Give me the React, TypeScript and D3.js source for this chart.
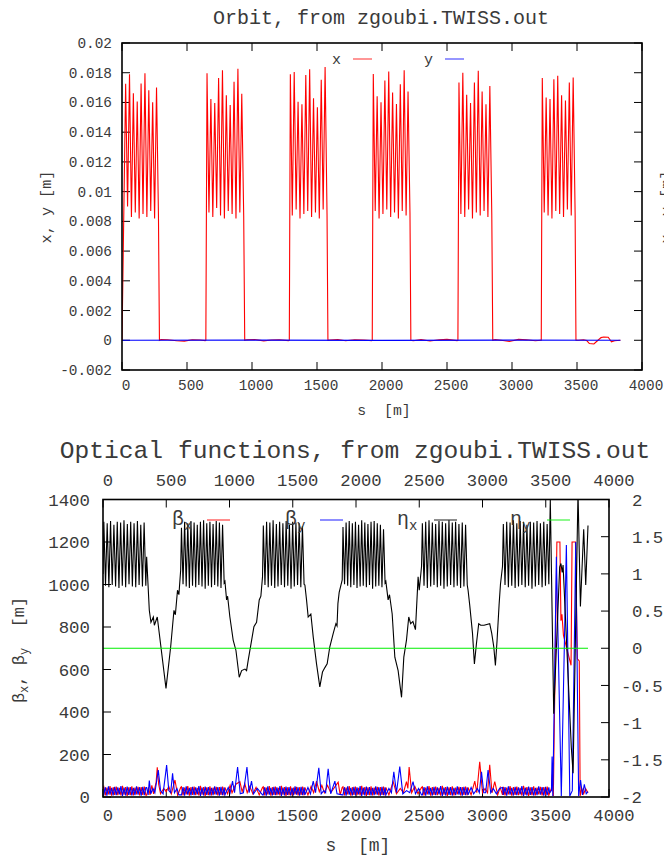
import React, { useEffect, useRef } from 'react';
import * as d3 from 'd3';

type Pt = [number, number];

const W = 664;
const H = 859;
const mono = '"Liberation Mono", "DejaVu Sans Mono", monospace';
const ink = '#3a3a3a';

// tick values
const sTicks = [0, 500, 1000, 1500, 2000, 2500, 3000, 3500, 4000];
const orbitTicks = [-0.002, 0, 0.002, 0.004, 0.006, 0.008, 0.01, 0.012, 0.014, 0.016, 0.018, 0.02];
const betaTicks = [0, 200, 400, 600, 800, 1000, 1200, 1400];
const etaTicks = [-2, -1.5, -1, -0.5, 0, 0.5, 1, 1.5, 2];

// ---- orbit (top panel) ----
const ringLength = 3834;
const orbitCell = 29.7;
const orbitArcStart = [0, 645, 1287, 1925, 2584, 3225];
const orbitFirstPeak = [28, 654, 1295, 1933, 2592, 3233];
const orbitArcEnd = [288, 944, 1584, 2222, 2852, 3492];
const orbitPeaks = [
  [0.01725, 0.0179, 0.01662, 0.01606, 0.01727, 0.01797, 0.01682, 0.01602, 0.017],
  [0.01797, 0.01624, 0.01597, 0.01765, 0.01817, 0.01649, 0.01582, 0.0174, 0.01826, 0.01658],
  [0.0179, 0.01805, 0.01604, 0.01588, 0.01785, 0.01823, 0.01628, 0.01568, 0.01752, 0.01839],
  [0.01792, 0.01641, 0.01602, 0.01747, 0.01808, 0.01667, 0.0159, 0.01722, 0.01817, 0.01673],
  [0.01735, 0.01799, 0.01651, 0.01597, 0.01734, 0.01814, 0.01674, 0.01588, 0.01711],
  [0.01765, 0.01633, 0.01624, 0.01756, 0.0178, 0.01649, 0.01613, 0.01735, 0.01768],
];
const orbitTroughs = [
  [0.009, 0.0083, 0.0086, 0.0082, 0.0085, 0.0083, 0.0087, 0.0082, 0.0084],
  [0.0086, 0.0083, 0.0089, 0.0084, 0.0082, 0.0087, 0.0085, 0.0082, 0.0086, 0.0084],
  [0.0084, 0.0088, 0.0082, 0.0085, 0.0087, 0.0083, 0.0086, 0.0082, 0.0088, 0.0085],
  [0.0087, 0.0082, 0.0085, 0.0088, 0.0083, 0.0086, 0.0082, 0.0087, 0.0084, 0.0086],
  [0.0085, 0.0083, 0.0088, 0.0082, 0.0086, 0.0084, 0.0087, 0.0083, 0.0085],
  [0.0086, 0.0084, 0.0082, 0.0087, 0.0085, 0.0083, 0.0088, 0.0084, 0.0086],
];
const orbitStraights: Pt[][] = [
  [[300, 0.00005], [350, 0.00004], [420, -0.00003], [480, -0.00006], [540, 0.00003], [600, 0.00002], [640, -0.00002]],
  [[960, 0.00003], [1020, 0.00005], [1090, -0.00004], [1150, 0.00002], [1210, 0.00004], [1280, -0.00002]],
  [[1600, 0.00002], [1660, 0.00005], [1720, -0.00003], [1790, 0.00003], [1860, 0.00002], [1920, -0.00002]],
  [[2240, -0.00003], [2300, 0.00004], [2370, -0.00005], [2440, 0.00003], [2500, 0.00006], [2578, -0.00002]],
  [[2870, 0.00004], [2930, -0.00002], [2980, -0.00008], [3050, 0.00006], [3110, 0.00003], [3180, -0.00003], [3220, 0]],
  [[3510, 0], [3550, 0.00003], [3575, -0.00002], [3595, -0.00022], [3630, -0.00025], [3655, -0.00005], [3685, 0.00018], [3705, 0.00022], [3740, 0.0002], [3765, -0.0001], [3790, -0.00003], [ringLength, 0]],
];
const yOrbit: Pt[] = [[0, 0], [1000, 0.00001], [2000, -0.00001], [3000, 0.00001], [ringLength, 0]];

// ---- optics (bottom panel) ----
const opticsArcStart = [0, 614, 1261, 1891, 2518, 3158];
const opticsArcEnd = [345, 964, 1596, 2236, 2886, 3531];
const etaPeaks = [
  [1.7, 1.68, 1.71, 1.66, 1.7, 1.69, 1.72, 1.67, 1.7, 1.68, 1.71, 1.66, 1.69],
  [1.62, 1.7, 1.68, 1.71, 1.69, 1.66, 1.7, 1.72, 1.68, 1.7, 1.67, 1.71, 1.69, 1.66],
  [1.65, 1.7, 1.69, 1.72, 1.67, 1.7, 1.68, 1.71, 1.66, 1.7, 1.69, 1.68, 1.64],
  [1.63, 1.69, 1.71, 1.68, 1.7, 1.66, 1.72, 1.69, 1.67, 1.7, 1.71, 1.68, 1.66, 1.6],
  [1.68, 1.7, 1.72, 1.69, 1.67, 1.71, 1.7, 1.68, 1.72, 1.69, 1.7, 1.67, 1.69, 1.66],
  [1.67, 1.7, 1.69, 1.72, 1.68, 1.71, 1.7, 1.66, 1.7, 1.69, 1.71, 1.68, 1.7, 1.67],
];
const etaTroughs = [
  [0.84, 0.82, 0.85, 0.83, 0.81, 0.84, 0.82, 0.86, 0.83, 0.82, 0.85, 0.83, 0.84],
  [0.86, 0.83, 0.81, 0.84, 0.82, 0.85, 0.83, 0.8, 0.84, 0.82, 0.85, 0.83, 0.81, 0.88],
  [0.85, 0.82, 0.84, 0.81, 0.83, 0.85, 0.82, 0.84, 0.8, 0.83, 0.85, 0.82, 0.86],
  [0.86, 0.84, 0.82, 0.85, 0.81, 0.83, 0.84, 0.82, 0.85, 0.8, 0.83, 0.84, 0.82, 0.88],
  [0.84, 0.81, 0.83, 0.85, 0.82, 0.84, 0.8, 0.83, 0.85, 0.82, 0.84, 0.81, 0.83, 0.85],
  [0.85, 0.82, 0.84, 0.81, 0.83, 0.85, 0.82, 0.84, 0.8, 0.83, 0.85, 0.82, 0.84, 0.86],
];
const etaStart: Pt[] = [[0, 1.0]];
const etaStraights: Pt[][] = [
  [[345, 1.23], [366, 0.51], [379, 0.35], [398, 0.42], [406, 0.31], [429, 0.42], [498, -0.54], [535, 0.02], [561, 0.51], [572, 0.45], [589, 0.78], [600, 0.72], [614, 1.05]],
  [[964, 0.9], [977, 0.65], [985, 0.7], [1003, 0.42], [1029, 0.11], [1051, -0.03], [1077, -0.39], [1096, -0.3], [1122, -0.28], [1135, -0.3], [1148, -0.16], [1175, 0.11], [1193, 0.29], [1214, 0.35], [1235, 0.65], [1248, 0.7], [1261, 0.96]],
  [[1596, 0.85], [1609, 0.65], [1622, 0.42], [1643, 0.46], [1662, 0.15], [1688, -0.21], [1714, -0.52], [1735, -0.32], [1754, -0.26], [1772, -0.21], [1793, 0.02], [1820, 0.2], [1841, 0.33], [1850, 0.3], [1857, 0.6], [1867, 0.75], [1891, 0.92]],
  [[2236, 0.9], [2254, 0.65], [2265, 0.72], [2286, 0.46], [2307, -0.12], [2333, -0.3], [2360, -0.66], [2378, -0.12], [2399, 0.11], [2417, 0.42], [2432, 0.33], [2450, 0.36], [2470, 0.25], [2491, 0.96], [2500, 0.78], [2518, 1.1]],
  [[2886, 0.78], [2899, 0.58], [2921, 0.2], [2936, -0.21], [2952, 0.06], [2970, 0.33], [2986, 0.31], [3012, 0.31], [3057, 0.33], [3073, 0.2], [3089, 0.02], [3102, -0.23], [3115, 0.1], [3131, 0.58], [3142, 0.86], [3158, 1.1]],
  [[3531, 1.5], [3536, 2.0], [3563, -0.88], [3610, 1.09], [3620, 1.14], [3630, 1.02], [3637, 1.12], [3702, -1.33], [3716, -1.68], [3755, 2.1], [3774, 0.56], [3800, 1.6], [3816, 0.85], [ringLength, 1.65]],
];
const etaY: Pt[] = [[0, 0], [ringLength, 0]];

const betaXArcPeaks = [48, 44, 51, 46, 49, 43, 52, 47, 45, 50, 44, 48, 46, 49];
const betaXArcTroughs = [8, 12, 6, 10, 9, 7, 11, 5, 9, 8, 12, 7, 10, 8];
const betaYArcPeaks = [46, 50, 43, 48, 45, 51, 44, 49, 47, 43, 50, 46, 48, 45];
const betaYArcTroughs = [10, 6, 11, 7, 9, 12, 5, 8, 10, 7, 9, 11, 6, 9];
const betaXStraights: Pt[][] = [
  [[345, 8], [360, 45], [372, 10], [386, 55], [400, 15], [420, 70], [429, 140], [440, 60], [455, 15], [480, 40], [500, 25], [520, 50], [540, 15], [569, 80], [590, 8], [614, 45]],
  [[964, 45], [985, 15], [1005, 55], [1020, 20], [1050, 60], [1082, 72], [1100, 25], [1121, 63], [1140, 20], [1160, 50], [1185, 15], [1210, 45], [1235, 10], [1261, 45]],
  [[1596, 45], [1620, 10], [1645, 50], [1665, 20], [1688, 75], [1710, 25], [1730, 55], [1750, 20], [1775, 55], [1800, 20], [1830, 45], [1859, 70], [1875, 10], [1891, 45]],
  [[2236, 45], [2260, 10], [2294, 72], [2320, 15], [2350, 40], [2375, 20], [2399, 72], [2410, 40], [2420, 141], [2440, 20], [2465, 50], [2490, 15], [2518, 45]],
  [[2886, 45], [2910, 10], [2939, 75], [2955, 20], [2978, 166], [3000, 20], [3020, 40], [3040, 20], [3057, 152], [3075, 20], [3097, 72], [3120, 10], [3140, 45], [3158, 10]],
  [[3531, 20], [3545, 40], [3553, 110], [3560, 5], [3588, 1200], [3612, 1200], [3620, 830], [3628, 860], [3640, 760], [3700, 620], [3708, 1200], [3735, 1200], [3750, 650], [3765, 640], [3772, 5], [3785, 40], [3800, 15], [3815, 40], [ringLength, 20]],
];
const betaYStraights: Pt[][] = [
  [[345, 45], [357, 10], [366, 77], [378, 15], [395, 40], [410, 20], [437, 127], [455, 30], [475, 15], [503, 150], [520, 30], [535, 20], [550, 111], [565, 20], [585, 40], [600, 10], [614, 10]],
  [[964, 10], [990, 45], [1005, 20], [1024, 75], [1040, 20], [1064, 141], [1085, 15], [1110, 20], [1138, 141], [1155, 20], [1174, 75], [1190, 15], [1220, 40], [1261, 10]],
  [[1596, 10], [1620, 45], [1640, 15], [1662, 75], [1680, 20], [1706, 137], [1725, 15], [1745, 30], [1760, 20], [1780, 133], [1800, 15], [1833, 75], [1850, 15], [1891, 10]],
  [[2236, 10], [2260, 40], [2280, 20], [2299, 119], [2320, 20], [2346, 143], [2370, 15], [2400, 30], [2425, 20], [2451, 72], [2470, 15], [2495, 40], [2518, 10]],
  [[2886, 10], [2910, 45], [2930, 15], [2960, 40], [2975, 20], [2992, 119], [3010, 20], [3025, 20], [3044, 127], [3065, 20], [3085, 40], [3110, 15], [3135, 40], [3158, 45]],
  [[3531, 20], [3545, 30], [3550, 190], [3556, 5], [3584, 1130], [3623, 5], [3663, 1186], [3690, 5], [3710, 30], [3737, 1200], [3760, 5], [3775, 80], [3790, 10], [3805, 60], [3820, 15], [ringLength, 25]],
];

// peaks/troughs spread over an arc, alternating
function arcPoints(start: number, end: number, highs: number[], lows: number[], highFirst: boolean): Pt[] {
  const n = Math.min(highs.length, lows.length);
  const step = (end - start) / (2 * n);
  const pts: Pt[] = [];
  for (let j = 0; j < 2 * n; j++) {
    const i = Math.floor(j / 2);
    const isHigh = (j % 2 === 0) === highFirst;
    pts.push([start + (j + 0.5) * step, isHigh ? highs[i] : lows[i]]);
  }
  return pts;
}

function buildOrbit(): Pt[] {
  const pts: Pt[] = [];
  orbitArcStart.forEach((st, k) => {
    pts.push([st, 0]);
    orbitPeaks[k].forEach((p, i) => {
      const s = orbitFirstPeak[k] + i * orbitCell;
      pts.push([s, p]);
      pts.push([s + orbitCell / 2, orbitTroughs[k][i]]);
    });
    pts.push([orbitArcEnd[k], 0]);
    orbitStraights[k].forEach(p => pts.push(p));
  });
  return pts;
}

function buildOptics(first: Pt[], highs: number[][] | number[], lows: number[][] | number[], straights: Pt[][], highFirst: boolean): Pt[] {
  const pts: Pt[] = [...first];
  opticsArcStart.forEach((st, k) => {
    const h = (Array.isArray(highs[k]) ? highs[k] : highs) as number[];
    const l = (Array.isArray(lows[k]) ? lows[k] : lows) as number[];
    arcPoints(st, opticsArcEnd[k], h, l, highFirst).forEach(p => pts.push(p));
    straights[k].forEach(p => pts.push(p));
  });
  return pts;
}

function draw(svgEl: SVGSVGElement) {
  const svg = d3.select(svgEl);
  svg.selectAll('*').remove();
  svg.append('rect').attr('width', W).attr('height', H).attr('fill', '#fff');
  const defs = svg.append('defs');

  // ================= top panel =================
  const t = { l: 122, r: 642, t: 43, b: 370 };
  const x1 = d3.scaleLinear().domain([0, 4000]).range([t.l, t.r]);
  const y1 = d3.scaleLinear().domain([-0.002, 0.02]).range([t.b, t.t]);

  defs.append('clipPath').attr('id', 'clipTop')
    .append('rect').attr('x', t.l).attr('y', t.t).attr('width', t.r - t.l).attr('height', t.b - t.t);

  const gt = svg.append('g');
  // ticks (inward, mirrored)
  sTicks.forEach(s => {
    gt.append('line').attr('x1', x1(s)).attr('x2', x1(s)).attr('y1', t.b).attr('y2', t.b - 8).attr('stroke', '#000');
    gt.append('line').attr('x1', x1(s)).attr('x2', x1(s)).attr('y1', t.t).attr('y2', t.t + 8).attr('stroke', '#000');
    gt.append('text').attr('x', x1(s) + 4).attr('y', t.b + 15).attr('dy', '0.35em')
      .attr('text-anchor', 'middle').attr('font-family', mono).attr('font-size', 14.4).attr('fill', ink)
      .text(String(s));
  });
  orbitTicks.forEach(v => {
    gt.append('line').attr('x1', t.l).attr('x2', t.l + 8).attr('y1', y1(v)).attr('y2', y1(v)).attr('stroke', '#000');
    gt.append('line').attr('x1', t.r).attr('x2', t.r - 8).attr('y1', y1(v)).attr('y2', y1(v)).attr('stroke', '#000');
    gt.append('text').attr('x', t.l - 10).attr('y', y1(v)).attr('dy', '0.35em')
      .attr('text-anchor', 'end').attr('font-family', mono).attr('font-size', 14.4).attr('fill', ink)
      .text(String(+v.toFixed(3)));
  });

  const line1 = d3.line<Pt>().x(d => x1(d[0])).y(d => y1(d[1]));
  const dataTop = gt.append('g').attr('clip-path', 'url(#clipTop)');
  dataTop.append('path').attr('d', line1(buildOrbit())).attr('fill', 'none').attr('stroke', '#ff0000').attr('stroke-width', 1.1);
  dataTop.append('path').attr('d', line1(yOrbit)).attr('fill', 'none').attr('stroke', '#0000ff').attr('stroke-width', 1.1);

  gt.append('rect').attr('x', t.l).attr('y', t.t).attr('width', t.r - t.l).attr('height', t.b - t.t)
    .attr('fill', 'none').attr('stroke', '#000').attr('stroke-width', 1.6);

  // legend
  const legTop = [
    { label: 'x', color: '#ff0000', xEnd: 341, x0: 353 },
    { label: 'y', color: '#0000ff', xEnd: 433, x0: 445 },
  ];
  legTop.forEach(d => {
    gt.append('text').attr('x', d.xEnd).attr('y', 59).attr('dy', '0.35em').attr('text-anchor', 'end')
      .attr('font-family', mono).attr('font-size', 15).attr('fill', ink).text(d.label);
    gt.append('line').attr('x1', d.x0).attr('x2', d.x0 + 19).attr('y1', 59).attr('y2', 59)
      .attr('stroke', d.color).attr('stroke-width', 1.5).attr('stroke-opacity', 0.55);
  });

  gt.append('text').attr('x', 381).attr('y', 17).attr('dy', '0.35em').attr('text-anchor', 'middle')
    .attr('font-family', mono).attr('font-size', 20).attr('fill', ink).text('Orbit, from zgoubi.TWISS.out');
  gt.append('text').attr('x', 384).attr('y', 410).attr('dy', '0.35em').attr('text-anchor', 'middle')
    .attr('font-family', mono).attr('font-size', 14.8).attr('fill', ink).style('white-space', 'pre').text('s  [m]');
  gt.append('text').attr('transform', 'translate(46,207) rotate(-90)').attr('dy', '0.35em').attr('text-anchor', 'middle')
    .attr('font-family', mono).attr('font-size', 15.2).attr('fill', ink).text('x, y [m]');
  // right-hand label, clipped by the page edge as in the original
  gt.append('text').attr('transform', 'translate(666,207) rotate(-90)').attr('dy', '0.35em').attr('text-anchor', 'middle')
    .attr('font-family', mono).attr('font-size', 15.2).attr('fill', ink).text('x, y [m]');

  // ================= bottom panel =================
  const b = { l: 103, r: 609, t: 499.5, b: 797 };
  const x2 = d3.scaleLinear().domain([0, 4000]).range([b.l, b.r]);
  const yB = d3.scaleLinear().domain([0, 1400]).range([b.b, b.t]);
  const yE = d3.scaleLinear().domain([-2, 2]).range([b.b, b.t]);

  defs.append('clipPath').attr('id', 'clipBot')
    .append('rect').attr('x', b.l).attr('y', b.t).attr('width', b.r - b.l).attr('height', b.b - b.t);

  const gb = svg.append('g');
  sTicks.forEach(s => {
    gb.append('line').attr('x1', x2(s)).attr('x2', x2(s)).attr('y1', b.b).attr('y2', b.b - 8).attr('stroke', '#000');
    gb.append('line').attr('x1', x2(s)).attr('x2', x2(s)).attr('y1', b.t).attr('y2', b.t + 8).attr('stroke', '#000');
    gb.append('text').attr('x', x2(s) + 5).attr('y', 815).attr('dy', '0.35em')
      .attr('text-anchor', 'middle').attr('font-family', mono).attr('font-size', 17.2).attr('fill', ink)
      .text(String(s));
    gb.append('text').attr('x', x2(s) + 5).attr('y', 480).attr('dy', '0.35em')
      .attr('text-anchor', 'middle').attr('font-family', mono).attr('font-size', 17.2).attr('fill', ink)
      .text(String(s));
  });
  betaTicks.forEach(v => {
    gb.append('line').attr('x1', b.l).attr('x2', b.l + 8).attr('y1', yB(v)).attr('y2', yB(v)).attr('stroke', '#000');
    gb.append('text').attr('x', 90).attr('y', yB(v)).attr('dy', '0.35em')
      .attr('text-anchor', 'end').attr('font-family', mono).attr('font-size', 17.4).attr('fill', ink)
      .text(String(v));
  });
  etaTicks.forEach(v => {
    gb.append('line').attr('x1', b.r).attr('x2', b.r - 8).attr('y1', yE(v)).attr('y2', yE(v)).attr('stroke', '#000');
    gb.append('text').attr('x', v < 0 ? 621 : 632).attr('y', yE(v)).attr('dy', '0.35em')
      .attr('text-anchor', 'start').attr('font-family', mono).attr('font-size', 17.4).attr('fill', ink)
      .text(String(v));
  });

  const lineB = d3.line<Pt>().x(d => x2(d[0])).y(d => yB(d[1]));
  const lineE = d3.line<Pt>().x(d => x2(d[0])).y(d => yE(d[1]));
  const dataBot = gb.append('g').attr('clip-path', 'url(#clipBot)');
  dataBot.append('path').attr('d', lineB(buildOptics([[0, 40]], betaXArcPeaks, betaXArcTroughs, betaXStraights, true)))
    .attr('fill', 'none').attr('stroke', '#ff0000').attr('stroke-width', 1.1);
  dataBot.append('path').attr('d', lineB(buildOptics([[0, 10]], betaYArcPeaks, betaYArcTroughs, betaYStraights, false)))
    .attr('fill', 'none').attr('stroke', '#0000ff').attr('stroke-width', 1.1);
  dataBot.append('path').attr('d', lineE(buildOptics(etaStart, etaPeaks, etaTroughs, etaStraights, true)))
    .attr('fill', 'none').attr('stroke', '#000').attr('stroke-width', 1.1);
  dataBot.append('path').attr('d', lineE(etaY)).attr('fill', 'none').attr('stroke', '#00ee00').attr('stroke-width', 1.1);

  gb.append('rect').attr('x', b.l).attr('y', b.t).attr('width', b.r - b.l).attr('height', b.b - b.t)
    .attr('fill', 'none').attr('stroke', '#000').attr('stroke-width', 1.6);

  const legBot = [
    { sym: 'β', sub: 'x', color: '#ff0000', x: 172, x0: 207 },
    { sym: 'β', sub: 'y', color: '#0000ff', x: 285, x0: 320 },
    { sym: 'η', sub: 'x', color: '#000000', x: 397, x0: 434 },
    { sym: 'η', sub: 'y', color: '#00ee00', x: 510, x0: 547 },
  ];
  legBot.forEach(d => {
    const tx = gb.append('text').attr('x', d.x).attr('y', 525)
      .attr('font-family', mono).attr('font-size', 20).attr('fill', ink);
    tx.append('tspan').text(d.sym);
    tx.append('tspan').attr('font-size', 14).attr('dy', 5).text(d.sub);
    gb.append('line').attr('x1', d.x0).attr('x2', d.x0 + 23).attr('y1', 520).attr('y2', 520)
      .attr('stroke', d.color).attr('stroke-width', 1.5).attr('stroke-opacity', 0.6);
  });

  gb.append('text').attr('x', 355).attr('y', 449).attr('dy', '0.35em').attr('text-anchor', 'middle')
    .attr('font-family', mono).attr('font-size', 24.6).attr('fill', ink).text('Optical functions, from zgoubi.TWISS.out');
  gb.append('text').attr('x', 358).attr('y', 845).attr('dy', '0.35em').attr('text-anchor', 'middle')
    .attr('font-family', mono).attr('font-size', 18).attr('fill', ink).style('white-space', 'pre').text('s  [m]');

  const yl = gb.append('text').attr('transform', 'translate(24,650) rotate(-90)').attr('text-anchor', 'middle')
    .attr('font-family', mono).attr('font-size', 17).attr('fill', ink).style('white-space', 'pre');
  yl.append('tspan').text('β');
  yl.append('tspan').attr('font-size', 12).attr('dy', 4).text('x');
  yl.append('tspan').attr('dy', -4).text(', β');
  yl.append('tspan').attr('font-size', 12).attr('dy', 4).text('y');
  yl.append('tspan').attr('dy', -4).text('  [m]');
}

export default function App() {
  const ref = useRef<SVGSVGElement>(null);
  useEffect(() => {
    if (ref.current) draw(ref.current);
  }, []);
  return (
    <svg ref={ref} width={W} height={H} style={{ position: 'absolute', left: 0, top: 0, display: 'block' }} />
  );
}
